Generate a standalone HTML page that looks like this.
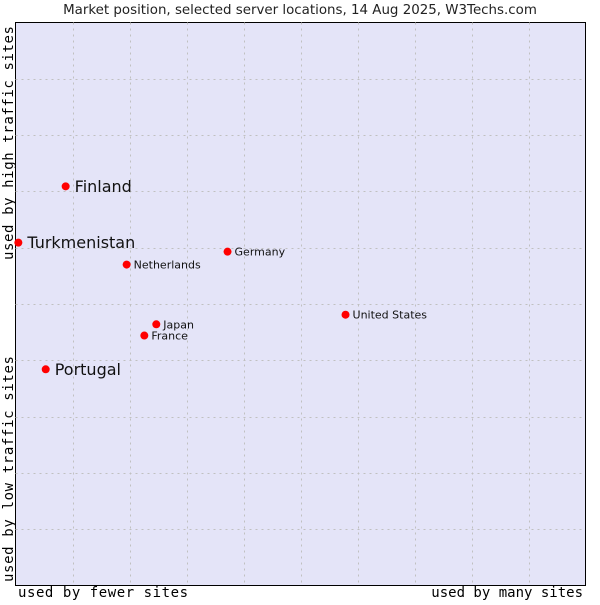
<!DOCTYPE html>
<html><head><meta charset="utf-8"><style>
body{margin:0;background:#fff;width:600px;height:600px;overflow:hidden}
svg text{font-family:"DejaVu Sans","Liberation Sans",sans-serif}
.mono{font-family:"DejaVu Sans Mono","Liberation Mono",monospace}
</style></head><body>
<svg id="chart" width="600" height="600">
<text x="300" y="14" text-anchor="middle" font-size="13.4" fill="#222">Market position, selected server locations, 14 Aug 2025, W3Techs.com</text>
<rect x="15.5" y="22.5" width="570" height="563" fill="#e4e4f8" stroke="#000"/>
<g id="grid"></g>
<g id="points"></g>
<text class="mono" x="18" y="597" font-size="14" fill="#000" textLength="170">used by fewer sites</text>
<text class="mono" x="583" y="597" font-size="14" fill="#000" text-anchor="end">used by many sites</text>
<text class="mono" transform="translate(13,260) rotate(-90)" font-size="14" fill="#000" textLength="234">used by high traffic sites</text>
<text class="mono" transform="translate(13,582) rotate(-90)" font-size="14" fill="#000" textLength="226">used by low traffic sites</text>
</svg>
<script>
const countries=["Finland","Turkmenistan","Germany","Netherlands","United States","Japan","France","Portugal"];
const xValues=[0.88,0.05,3.72,1.95,5.79,2.47,2.26,0.53];
const yValues=[7.09,6.09,5.93,5.70,4.81,4.64,4.44,3.84];
const bigLabel=[true,true,false,false,false,false,false,true];
const NS="http://www.w3.org/2000/svg";
const L=15.5,R=585.5,T=22.5,B=585.5;
const sx=v=>L+(R-L)*v/10, sy=v=>B-(B-T)*v/10;
const grid=document.getElementById('grid');
for(let i=1;i<10;i++){
 const v=document.createElementNS(NS,'line');
 v.setAttribute('x1',Math.round(sx(i))+0.5);v.setAttribute('x2',Math.round(sx(i))+0.5);v.setAttribute('y1',T);v.setAttribute('y2',B);
 v.setAttribute('stroke','#c0c0c0');v.setAttribute('stroke-dasharray','2,4');
 
 
 grid.appendChild(v);
 const h=document.createElementNS(NS,'line');
 h.setAttribute('y1',Math.round(sy(i))+0.5);h.setAttribute('y2',Math.round(sy(i))+0.5);h.setAttribute('x1',L);h.setAttribute('x2',R);
 h.setAttribute('stroke','#c0c0c0');h.setAttribute('stroke-dasharray','2,4');
 
 
 grid.appendChild(h);
}
const pts=document.getElementById('points');
countries.forEach((c,i)=>{
 const x=sx(xValues[i]),y=sy(yValues[i]);
 const d=document.createElementNS(NS,'circle');
 d.setAttribute('cx',x);d.setAttribute('cy',y);d.setAttribute('r',4);d.setAttribute('fill','#f00');
 
 
 pts.appendChild(d);
 const t=document.createElementNS(NS,'text');
 t.setAttribute('x',x+(bigLabel[i]?9:7));t.setAttribute('y',y+(bigLabel[i]?5.5:4));
 t.setAttribute('font-size',bigLabel[i]?16:11);t.setAttribute('fill','#111');
 t.textContent=c;
 
 
 pts.appendChild(t);
});
</script>
</body></html>
